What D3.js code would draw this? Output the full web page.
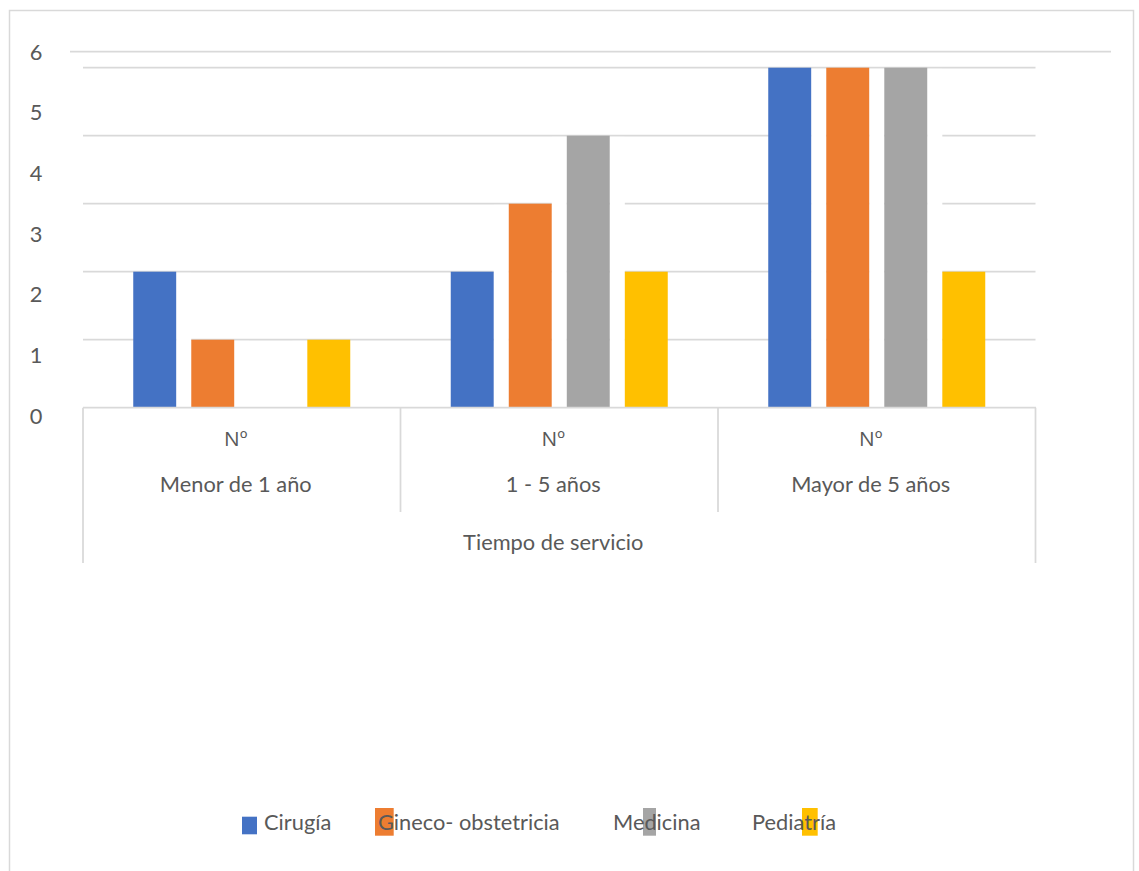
<!DOCTYPE html>
<html lang="es">
<head>
<meta charset="utf-8">
<title>Tiempo de servicio</title>
<script src="https://cdn.jsdelivr.net/npm/d3@7"></script>
<style>
  html, body { margin: 0; padding: 0; background: #fff; }
  svg { display: block; }
  text { font-family: Lato, "Open Sans", sans-serif; fill: #595959; }
  text.ordinal { font-family: "Open Sans", Lato, sans-serif; }
</style>
</head>
<body>
<svg id="chart" width="1139" height="871"></svg>
<script>
// ---- data ----
const categories = ["Menor de 1 año", "1 - 5 años", "Mayor de 5 años"];
const subLabel = "Nº";
const groupTitle = "Tiempo de servicio";
const seriesNames = ["Cirugía", "Gineco- obstetricia", "Medicina", "Pediatría"];
const cirugia   = [2, 2, 5];
const gineco    = [1, 3, 5];
const medicina  = [0, 4, 5];
const pediatria = [1, 2, 2];
const yTickLabels = [0, 1, 2, 3, 4, 5, 6];
const gridValues = [1, 2, 3, 4, 5];

// ---- styling ----
const colors = ["#4472C4", "#ED7D31", "#A5A5A5", "#FFC000"];
const gridColor = "#D9D9D9";
const fontSize = 21.8;
const lineW = 1.75;

const seriesValues = [cirugia, gineco, medicina, pediatria];
const table = categories.map((c, ci) => ({
  category: c,
  values: seriesNames.map((s, si) => ({ series: s, si, value: seriesValues[si][ci] }))
}));

const svg = d3.select("#chart");

// outer chart frame
svg.append("rect")
  .attr("x", 9.5).attr("y", 10.5)
  .attr("width", 1124).attr("height", 900)
  .attr("fill", "none").attr("stroke", gridColor).attr("stroke-width", 1.5);

const plotLeft = 83, plotRight = 1035.5, baseY = 407.7;

// value scale for bars and gridlines
const y = d3.scaleLinear().domain([0, 5]).range([baseY, 67.7]);
// scale used for the axis tick labels
const yLab = d3.scaleLinear().domain([0, 6]).range([416, 51.7]);

const x0 = d3.scaleBand().domain(categories).range([plotLeft, plotRight]).padding(0);
const clusterWidth = 217;
const x1 = d3.scaleBand().domain(seriesNames)
  .range([(x0.bandwidth() - clusterWidth) / 2, (x0.bandwidth() + clusterWidth) / 2])
  .paddingInner(0.26);

// top line at the label "6"
svg.append("line")
  .attr("x1", 70).attr("x2", 1111)
  .attr("y1", yLab(6)).attr("y2", yLab(6))
  .attr("stroke", gridColor).attr("stroke-width", lineW);

// horizontal gridlines
svg.append("g").selectAll("line").data(gridValues).join("line")
  .attr("x1", plotLeft).attr("x2", plotRight)
  .attr("y1", d => y(d)).attr("y2", d => y(d))
  .attr("stroke", gridColor).attr("stroke-width", lineW);

// white gaps between neighbouring bars hide the gridlines below the taller neighbour
const gaps = [];
table.forEach(row => {
  for (let i = 0; i < row.values.length - 1; i++) {
    const a = row.values[i], b = row.values[i + 1];
    const top = Math.max(a.value, b.value);
    if (top > 0) gaps.push({ category: row.category, left: a.series, right: b.series, top });
  }
});
svg.append("g").selectAll("rect").data(gaps).join("rect")
  .attr("x", d => x0(d.category) + x1(d.left) + x1.bandwidth())
  .attr("width", d => x1(d.right) - x1(d.left) - x1.bandwidth())
  .attr("y", d => y(d.top) + 1.2)
  .attr("height", d => baseY - 1 - (y(d.top) + 1.2))
  .attr("fill", "#fff");

// bars
const groups = svg.append("g").selectAll("g").data(table).join("g")
  .attr("transform", d => `translate(${x0(d.category)},0)`);
groups.selectAll("rect").data(d => d.values.filter(v => v.value > 0)).join("rect")
  .attr("x", d => x1(d.series))
  .attr("width", x1.bandwidth())
  .attr("y", d => y(d.value))
  .attr("height", d => y(0) - y(d.value))
  .attr("fill", d => colors[d.si]);

// category axis baseline and dividers
svg.append("line")
  .attr("x1", plotLeft).attr("x2", plotRight + 0.5)
  .attr("y1", baseY).attr("y2", baseY)
  .attr("stroke", gridColor).attr("stroke-width", lineW);

const dividers = x0.domain().map(c => x0(c)).concat([plotRight]);
svg.append("g").selectAll("line").data(dividers).join("line")
  .attr("x1", d => d).attr("x2", d => d)
  .attr("y1", baseY)
  .attr("y2", (d, i) => (i === 0 || i === dividers.length - 1) ? 563 : 512)
  .attr("stroke", gridColor).attr("stroke-width", lineW);

// category labels
const labelOffset = -6;
svg.append("g").selectAll("text").data(categories).join("text")
  .attr("class", "ordinal")
  .attr("x", d => x0(d) + x0.bandwidth() / 2 + labelOffset)
  .attr("y", 446)
  .attr("text-anchor", "middle")
  .attr("font-size", fontSize - 1)
  .text(subLabel);
svg.append("g").selectAll("text").data(categories).join("text")
  .attr("x", d => x0(d) + x0.bandwidth() / 2 + labelOffset)
  .attr("y", 492)
  .attr("text-anchor", "middle")
  .attr("font-size", fontSize)
  .text(d => d);
svg.append("text")
  .attr("x", (plotLeft + plotRight) / 2 + labelOffset)
  .attr("y", 550)
  .attr("text-anchor", "middle")
  .attr("font-size", fontSize)
  .text(groupTitle);

// y tick labels
svg.append("g").selectAll("text").data(yTickLabels).join("text")
  .attr("x", 36)
  .attr("y", d => yLab(d))
  .attr("dy", "0.36em")
  .attr("text-anchor", "middle")
  .attr("font-size", fontSize)
  .text(d => d);

// legend
const legendLayout = [
  { text: 264, sx: 242, sy: 816.7, sw: 15, sh: 17.6 },
  { text: 378, sx: 375, sy: 808, sw: 18.7, sh: 27.7 },
  { text: 613, sx: 643, sy: 808, sw: 13, sh: 27.7 },
  { text: 752, sx: 802, sy: 808, sw: 15.7, sh: 27.7 }
];
const legend = svg.append("g").selectAll("g").data(seriesNames).join("g");
legend.append("rect")
  .attr("x", (d, i) => legendLayout[i].sx)
  .attr("y", (d, i) => legendLayout[i].sy)
  .attr("width", (d, i) => legendLayout[i].sw)
  .attr("height", (d, i) => legendLayout[i].sh)
  .attr("fill", (d, i) => colors[i]);
legend.append("text")
  .attr("x", (d, i) => legendLayout[i].text)
  .attr("y", 830)
  .attr("font-size", fontSize)
  .text(d => d);
</script>
</body>
</html>
